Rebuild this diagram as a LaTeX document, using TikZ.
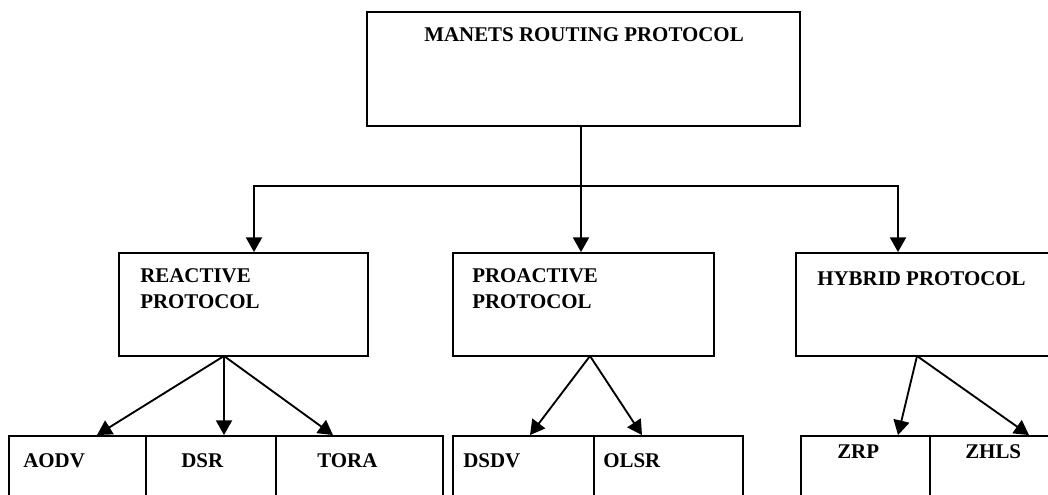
\documentclass[tikz,border=0pt]{standalone}
\usepackage{fontspec}
\setmainfont{Liberation Serif}
\usetikzlibrary{arrows.meta,calc,fit}

\tikzstyle{every node}=[font={\bfseries\fontsize{15.7}{18.8}\selectfont}, inner sep=0pt]
\tikzstyle{box}=[draw=black, line width=1.4pt]
\tikzstyle{lbl}=[anchor=base west, align=left]
\tikzstyle{link}=[line width=1.4pt]
\tikzstyle{arr}=[link, -{Triangle[length=11pt,width=12pt]}]

\begin{document}
\begin{tikzpicture}[x=0.75pt, y=-0.75pt]
    \clip (0,0) rectangle (1048,495);
    % root
    \node [box, fit={(367,12) (800,126)}] (manet) {};
    \node [lbl, anchor=base] (manettxt) at (584,42) {MANETS ROUTING PROTOCOL};
    % classes
    \node [box, fit={(119,253) (368,356)}] (react) {};
    \node [box, fit={(453,253) (714,356)}] (proact) {};
    \node [box, fit={(796,253) (1070,356)}] (hybrid) {};
    \node [lbl] (reacttxt) at (140,308) {REACTIVE\\PROTOCOL};
    \node [lbl] (proacttxt) at (472,308) {PROACTIVE\\PROTOCOL};
    \node [lbl] (hybridtxt) at (817,285) {HYBRID PROTOCOL};
    % protocols
    \node [box, fit={(9,436) (146,520)}] (aodv) {};
    \node [box, fit={(146,436) (276,520)}] (dsr) {};
    \node [box, fit={(276,436) (443,520)}] (tora) {};
    \node [box, fit={(453,436) (594,520)}] (dsdv) {};
    \node [box, fit={(594,436) (743,520)}] (olsr) {};
    \node [box, fit={(801,436) (930,520)}] (zrp) {};
    \node [box, fit={(930,436) (1070,520)}] (zhls) {};
    \node [lbl] (aodvtxt) at (23,467) {AODV};
    \node [lbl] (dsrtxt) at (181,467) {DSR};
    \node [lbl] (toratxt) at (317,467) {TORA};
    \node [lbl] (dsdvtxt) at (463,467) {DSDV};
    \node [lbl] (olsrtxt) at (603,467) {OLSR};
    \node [lbl] (zrptxt) at (837,458) {ZRP};
    \node [lbl] (zhlstxt) at (965,458) {ZHLS};

    % tree lines
    \coordinate (top) at (581,126);
    \coordinate (hub) at (581,186);
    \coordinate (rfork) at (224,356);
    \coordinate (pfork) at (590,356);
    \coordinate (hfork) at (917,356);
    \draw [link] (top) -- (hub);
    \draw [arr] (hub) -| ($(react.north)+(10.5,0)$);
    \draw [arr] (hub) -| ($(hybrid.north)+(-35,0)$);
    \draw [arr] (hub) -- (proact.north -| hub);
    \draw [arr] (rfork) -- ($(aodv.north)+(19.5,0)$);
    \draw [arr] (rfork) -- (dsr.north -| rfork);
    \draw [arr] (rfork) -- ($(tora.north)+(-26.5,0)$);
    \draw [arr] (pfork) -- ($(dsdv.north)+(6.5,0)$);
    \draw [arr] (pfork) -- ($(olsr.north)+(-26.5,0)$);
    \draw [arr] (hfork) -- ($(zrp.north)+(32.5,0)$);
    \draw [arr] (hfork) -- ($(zhls.north)+(29,0)$);
\end{tikzpicture}
\end{document}
